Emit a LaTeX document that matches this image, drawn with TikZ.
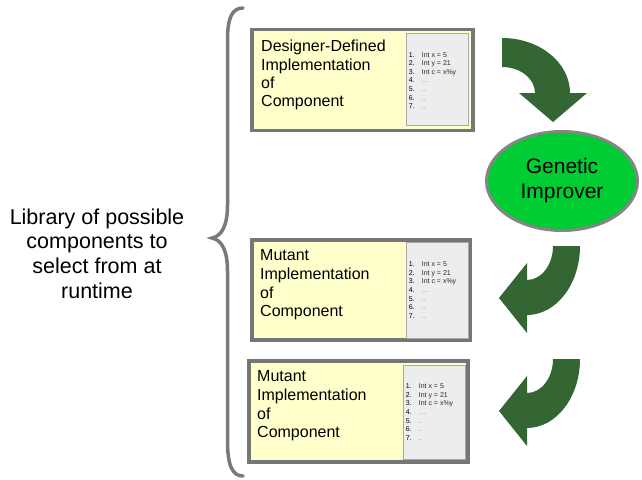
\documentclass[tikz,border=0pt]{standalone}
\usepackage{fontspec}
\setmainfont{Liberation Sans}
\usepackage{tikz}
\usetikzlibrary{shapes.geometric,positioning}
\definecolor{boxfill}{HTML}{FFFFCC}
\definecolor{boxedge}{HTML}{767676}
\definecolor{panelfill}{HTML}{EDEDED}
\definecolor{paneledge}{HTML}{A8A8A8}
\definecolor{arrowgreen}{HTML}{336633}
\definecolor{gpgreen}{HTML}{00CC33}
\definecolor{gpedge}{HTML}{858585}
\definecolor{bracegray}{HTML}{7A7A7A}
\definecolor{codegray}{HTML}{2A2A2A}
\definecolor{dotgray}{HTML}{8C8C8C}
\tikzset{
  implbox/.style={rectangle,draw=boxedge,fill=boxfill,line width=3.5pt,inner sep=0pt},
  panel/.style={rectangle,draw=paneledge,fill=panelfill,line width=0.8pt,inner sep=0pt},
  impltext/.style={anchor=north west,inner sep=0pt,align=left,font=\fontsize{16}{18.7}\selectfont},
  codetext/.style={anchor=west,inner sep=0pt,align=left,font=\fontsize{7}{8.6}\selectfont},
  gpnode/.style={ellipse,draw=gpedge,fill=gpgreen,line width=3pt,inner sep=0pt,
    minimum width=151pt,minimum height=99pt,align=center,font=\fontsize{21}{25}\selectfont},
  curlyarrow/.style={fill=arrowgreen},
  bracket/.style={draw=bracegray,line width=3.5pt,line cap=round}
}
\newcommand{\codelines}{%
  \makebox[13pt][l]{1.}{\color{codegray}Int x = 5}\\
  \makebox[13pt][l]{2.}{\color{codegray}Int y = 21}\\
  \makebox[13pt][l]{3.}{\color{codegray}Int c = x\%y}\\
  \makebox[13pt][l]{4.}{\color{dotgray}\dots}\\
  \makebox[13pt][l]{5.}{\color{dotgray}..}\\
  \makebox[13pt][l]{6.}{\color{dotgray}..}\\
  \makebox[13pt][l]{7.}{\color{dotgray}..}}

\begin{document}
\begin{tikzpicture}[x=1pt,y=-1pt]
  \useasboundingbox (0,0) rectangle (642,479);

  % the library brace and its label
  \draw[bracket] (243,8) .. controls (232,8) and (227.5,18) .. (227.5,40) -- (227.5,205)
    .. controls (227.5,225) and (222,236) .. (212,238)
    .. controls (222,240) and (227.5,251) .. (227.5,271) -- (227.5,440)
    .. controls (227.5,465) and (232,476) .. (243,476);
  \node[anchor=north,inner sep=0pt,align=center,font=\fontsize{21.5}{24.7}\selectfont]
    (library) at (97,208.5) {Library of possible\\components to\\select from at\\runtime};

  % implementations
  \node[implbox,minimum width=221pt,minimum height=101pt] (designer) at (362.5,80) {};
  \node[panel,minimum width=62pt,minimum height=92pt] (paneldesigner) at (437,79) {};
  \node[impltext,font=\fontsize{16}{18.3}\selectfont] (txtdesigner) at (261,40) {Designer-Defined\\Implementation\\of\\Component};
  \node[codetext] (codedesigner) at ([xshift=3pt,yshift=-1.5pt]paneldesigner.west) {\codelines};

  \node[implbox,minimum width=218pt,minimum height=100pt] (mutantA) at (361,290) {};
  \node[panel,minimum width=62pt,minimum height=96pt] (panelA) at (437,290) {};
  \node[impltext] (txtA) at (260,249.5) {Mutant\\Implementation\\of\\Component};
  \node[codetext] (codeA) at ([xshift=3pt]panelA.west) {\codelines};

  \node[implbox,minimum width=219pt,minimum height=101pt] (mutantB) at (358.5,411.5) {};
  \node[panel,minimum width=62pt,minimum height=94pt] (panelB) at (434,412) {};
  \node[impltext] (txtB) at (257,370.5) {Mutant\\Implementation\\of\\Component};
  \node[codetext] (codeB) at ([xshift=3pt]panelB.west) {\codelines};

  % genetic improver
  \node[gpnode] (improver) at (562,181) {Genetic\\Improver};

  % curved block arrows
  \fill[curlyarrow] (502,67) -- (502,38) arc[start angle=-90,end angle=0,x radius=68,y radius=55]
    -- (587,93) -- (553,122) -- (519,93) -- (535,93)
    arc[start angle=0,end angle=-90,x radius=33,y radius=26] -- cycle;
  \foreach \dy in {0,113}{
    \fill[curlyarrow,yshift=-\dy pt] (553,246) -- (580,246)
      arc[start angle=0,end angle=90,x radius=53,y radius=69]
      -- (527,333) -- (499,298) -- (527,263) -- (527,280)
      arc[start angle=90,end angle=0,x radius=26,y radius=34] -- cycle;
  }
\end{tikzpicture}
\end{document}
